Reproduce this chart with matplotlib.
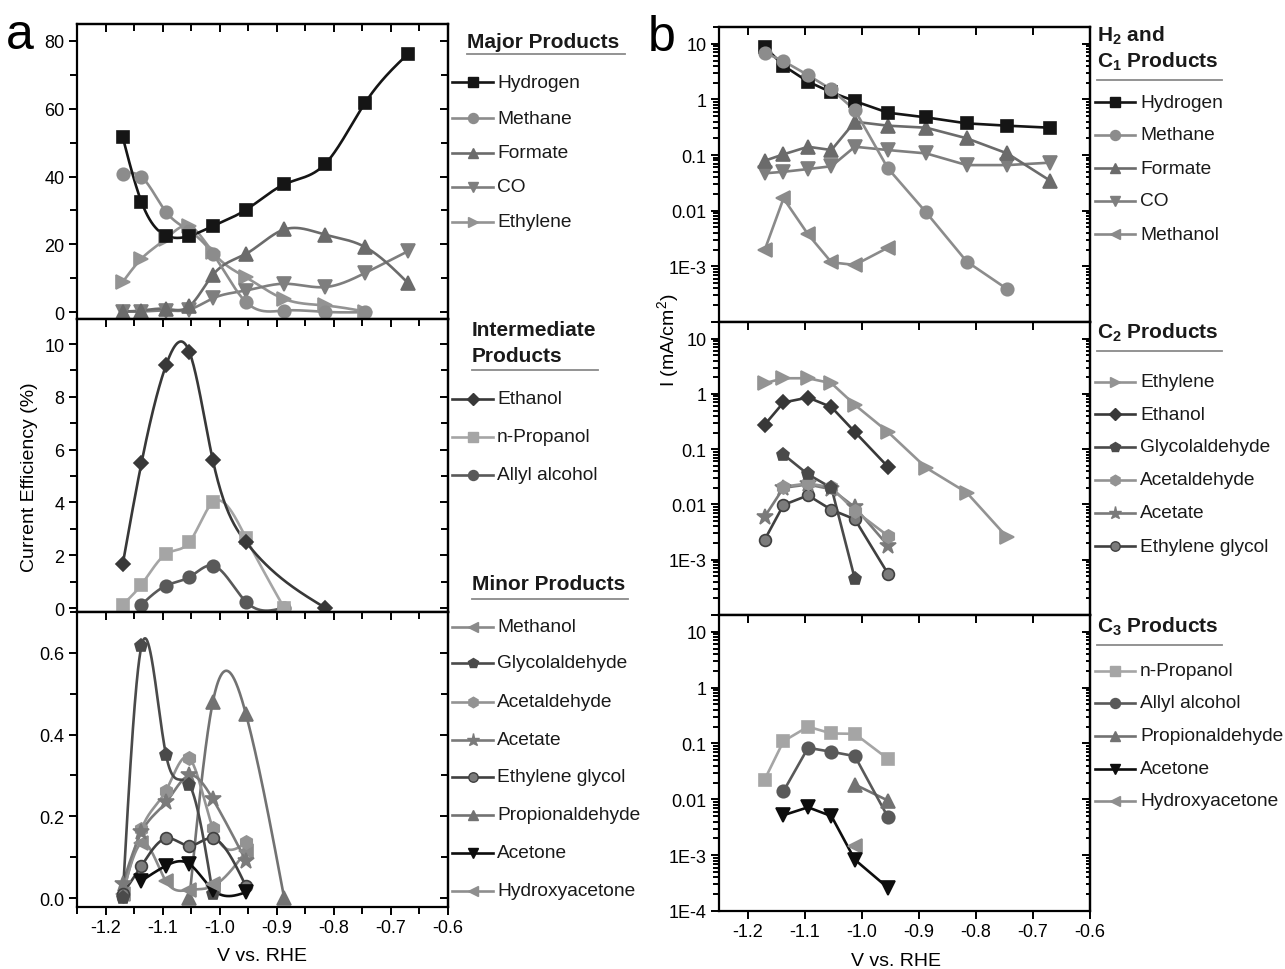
import numpy as np
import matplotlib
matplotlib.use('Agg')
import matplotlib.pyplot as plt
from matplotlib.lines import Line2D
from matplotlib.ticker import (MultipleLocator, FixedLocator, FixedFormatter,
                               FormatStrFormatter, LogLocator, NullFormatter)

plt.rcParams['font.family'] = ['Liberation Sans', 'DejaVu Sans']
plt.rcParams['mathtext.fontset'] = 'custom'
plt.rcParams['mathtext.rm'] = 'Liberation Sans'
plt.rcParams['mathtext.bf'] = 'Liberation Sans:bold'
plt.rcParams['mathtext.it'] = 'Liberation Sans:italic'
plt.rcParams['axes.unicode_minus'] = False

# applied potentials, V vs. RHE
V = [-1.17, -1.137, -1.094, -1.053, -1.012, -0.954, -0.887, -0.816, -0.745, -0.67]

# ---- (a) current efficiency, %
fe_hydrogen = [51.7, 32.5, 22.6, 22.5, 25.4, 30.2, 37.7, 43.6, 61.8, 76.2]
fe_methane = [40.9, 39.9, 29.6, 24.0, 17.2, 3.0, 0.5, 0.1, 0.0]
fe_formate = [0.2, 0.5, 1.0, 1.8, 11.0, 17.2, 24.4, 22.9, 19.2, 8.6]
fe_co = [0.2, 0.2, 0.5, 0.8, 4.1, 6.4, 8.4, 7.4, 11.6, 18.0]
fe_ethylene = [8.9, 15.8, 21.7, 25.4, 17.7, 10.3, 3.9, 2.0, 0.2]

v_fe_ethanol = [-1.17, -1.137, -1.094, -1.053, -1.012, -0.954, -0.816]
fe_ethanol = [1.65, 5.5, 9.2, 9.7, 5.6, 2.5, 0.02]
fe_npropanol = [0.13, 0.89, 2.05, 2.5, 4.0, 2.66, 0.0]
fe_allyl = [0.13, 0.85, 1.17, 1.61, 0.24, 0.02]

fe_methanol = [0.011, 0.134, 0.041, 0.02, 0.029, 0.114]
fe_glycolaldehyde = [0.0, 0.617, 0.35, 0.277, 0.01]
fe_acetaldehyde = [0.005, 0.169, 0.263, 0.342, 0.171, 0.136]
fe_acetate = [0.035, 0.161, 0.234, 0.30, 0.242, 0.091]
fe_ethylene_glycol = [0.01, 0.079, 0.146, 0.128, 0.146, 0.029]
fe_propionaldehyde = [0.0, 0.48, 0.45, 0.0]
fe_acetone = [0.042, 0.079, 0.083, 0.02, 0.014]
fe_hydroxyacetone = [0.035]

# ---- (b) partial current density, mA/cm2
j_hydrogen = [8.85, 4.03, 2.08, 1.34, 0.93, 0.577, 0.475, 0.371, 0.337, 0.31]
j_methane = [6.9, 4.87, 2.73, 1.51, 0.643, 0.0576, 0.0093, 0.00122, 0.00039]
j_formate = [0.079, 0.103, 0.141, 0.123, 0.397, 0.337, 0.31, 0.2, 0.107, 0.0347]
j_co = [0.047, 0.050, 0.056, 0.063, 0.141, 0.123, 0.107, 0.066, 0.066, 0.073]
j_methanol = [0.00196, 0.0166, 0.00376, 0.00118, 0.00106, 0.00217]

j_ethylene = [1.56, 1.92, 1.92, 1.56, 0.634, 0.205, 0.046, 0.0164, 0.00254]
j_ethanol = [0.277, 0.70, 0.861, 0.577, 0.205, 0.048]
j_glycolaldehyde = [0.080, 0.035, 0.020, 0.00045]
j_acetaldehyde = [0.021, 0.024, 0.0204, 0.0077, 0.0027]
j_acetate = [0.006, 0.020, 0.023, 0.0188, 0.0089, 0.0018]
j_ethylene_glycol = [0.0023, 0.0098, 0.0146, 0.008, 0.0054, 0.00056]

j_npropanol = [0.0226, 0.110, 0.20, 0.151, 0.149, 0.053]
j_allyl = [0.014, 0.0837, 0.071, 0.0594, 0.0048]
j_propionaldehyde = [0.0184, 0.0095]
j_acetone = [0.0052, 0.0072, 0.0050, 0.00083, 0.00026]
j_hydroxyacetone = [0.00144]

STYLE = {
    'Hydrogen': dict(color='#151515', marker='s', ms=8.5),
    'Methane': dict(color='#8c8c8c', marker='o', ms=9),
    'Formate': dict(color='#6b6b6b', marker='^', ms=9.5),
    'CO': dict(color='#7e7e7e', marker='v', ms=9.5),
    'Ethylene': dict(color='#939393', marker='>', ms=9.5),
    'Methanol': dict(color='#8a8a8a', marker='<', ms=9.5),
    'Ethanol': dict(color='#383838', marker='D', ms=7.5),
    'n-Propanol': dict(color='#a5a5a5', marker='s', ms=8.5),
    'Allyl alcohol': dict(color='#595959', marker='o', ms=9),
    'Glycolaldehyde': dict(color='#4a4a4a', marker='p', ms=9.5),
    'Acetaldehyde': dict(color='#939393', marker='h', ms=9.5),
    'Acetate': dict(color='#7a7a7a', marker='*', ms=12),
    'Ethylene glycol': dict(color='#404040', marker='o', ms=8.5, mfc='#7c7c7c'),
    'Propionaldehyde': dict(color='#727272', marker='^', ms=9.5),
    'Acetone': dict(color='#0d0d0d', marker='v', ms=9.5),
    'Hydroxyacetone': dict(color='#8e8e8e', marker='<', ms=9.5),
}

W, H = 1285, 970
LW = 1.9


def natural_spline(x, y, num=300):
    """Smooth connecting curve through the measured points."""
    x = np.asarray(x, float)
    y = np.asarray(y, float)
    n = len(x)
    if n < 3:
        return x, y
    h = np.diff(x)
    A = np.zeros((n, n))
    r = np.zeros(n)
    A[0, 0] = A[-1, -1] = 1.0
    for i in range(1, n - 1):
        A[i, i - 1] = h[i - 1]
        A[i, i] = 2 * (h[i - 1] + h[i])
        A[i, i + 1] = h[i]
        r[i] = 6 * ((y[i + 1] - y[i]) / h[i] - (y[i] - y[i - 1]) / h[i - 1])
    M = np.linalg.solve(A, r)
    xs = np.linspace(x[0], x[-1], num)
    k = np.clip(np.searchsorted(x, xs) - 1, 0, n - 2)
    t1 = x[k + 1] - xs
    t0 = xs - x[k]
    hk = h[k]
    ys = ((M[k] * t1 ** 3 + M[k + 1] * t0 ** 3) / (6 * hk)
          + (y[k] / hk - M[k] * hk / 6) * t1
          + (y[k + 1] / hk - M[k + 1] * hk / 6) * t0)
    return xs, ys


def plot_series(ax, name, x, y, smooth):
    st = STYLE[name]
    c = st['color']
    if smooth:
        xs, ys = natural_spline(x, y)
    else:
        xs, ys = x, y
    ax.plot(xs, ys, color=c, lw=LW, zorder=2)
    ax.plot(x, y, ls='none', marker=st['marker'], ms=st['ms'], color=c,
            mfc=st.get('mfc', c), mec=c, mew=1.2, zorder=3)


def add_axes(left, top, right, bottom):
    return fig.add_axes([left / W, 1 - bottom / H, (right - left) / W, (bottom - top) / H])


def style_axes(ax, log, xlabels, minor_x):
    ax.set_xlim(-1.25, -0.6)
    ax.xaxis.set_major_locator(MultipleLocator(0.1))
    ax.xaxis.set_major_formatter(FormatStrFormatter('%.1f'))
    if minor_x:
        ax.xaxis.set_minor_locator(MultipleLocator(0.05))
    for sp in ax.spines.values():
        sp.set_linewidth(1.6)
    ax.tick_params(which='both', direction='out', width=1.4, labelsize=13,
                   top=False, right=False, labelbottom=xlabels, pad=3)
    ax.tick_params(which='major', length=6)
    ax.tick_params(which='minor', length=4 if log else 5)

    # mirrored ticks on the top and right side point inward
    top = ax.secondary_xaxis('top')
    top.xaxis.set_major_locator(MultipleLocator(0.1))
    if minor_x:
        top.xaxis.set_minor_locator(MultipleLocator(0.05))
    top.tick_params(which='both', direction='in', width=1.4, labeltop=False)
    top.tick_params(which='major', length=6)
    top.tick_params(which='minor', length=5)
    top.spines['top'].set_linewidth(1.6)

    rgt = ax.secondary_yaxis('right')
    if log:
        rgt.yaxis.set_major_locator(FixedLocator([1e-4, 1e-3, 1e-2, 1e-1, 1, 10]))
        rgt.yaxis.set_minor_locator(LogLocator(base=10, subs=np.arange(2, 10), numticks=20))
        rgt.yaxis.set_minor_formatter(NullFormatter())
    else:
        rgt.yaxis.set_major_locator(ax.yaxis.get_major_locator())
        rgt.yaxis.set_minor_locator(ax.yaxis.get_minor_locator())
    rgt.tick_params(which='both', direction='in', width=1.4, labelright=False)
    rgt.tick_params(which='major', length=6)
    rgt.tick_params(which='minor', length=3 if log else 5)
    rgt.spines['right'].set_linewidth(1.6)


fig = plt.figure(figsize=(W / 100, H / 100), dpi=100)

# ---------------- panel a ----------------
a1 = add_axes(77, 25, 448, 320)
a2 = add_axes(77, 320, 448, 613)
a3 = add_axes(77, 613, 448, 908)

a1.set_ylim(-2, 85)
a1.yaxis.set_major_locator(MultipleLocator(20))
a1.yaxis.set_minor_locator(MultipleLocator(10))
a2.set_ylim(-0.15, 10.95)
a2.yaxis.set_major_locator(MultipleLocator(2))
a2.yaxis.set_minor_locator(MultipleLocator(1))
a3.set_ylim(-0.022, 0.70)
a3.yaxis.set_major_locator(MultipleLocator(0.2))
a3.yaxis.set_minor_locator(MultipleLocator(0.1))
a3.yaxis.set_major_formatter(FormatStrFormatter('%.1f'))

style_axes(a1, False, False, True)
style_axes(a2, False, False, True)
style_axes(a3, False, True, True)

plot_series(a1, 'Ethylene', V[:9], fe_ethylene, True)
plot_series(a1, 'CO', V, fe_co, True)
plot_series(a1, 'Formate', V, fe_formate, True)
plot_series(a1, 'Methane', V[:9], fe_methane, True)
plot_series(a1, 'Hydrogen', V, fe_hydrogen, True)

plot_series(a2, 'Allyl alcohol', V[1:7], fe_allyl, True)
plot_series(a2, 'n-Propanol', V[:7], fe_npropanol, True)
plot_series(a2, 'Ethanol', v_fe_ethanol, fe_ethanol, True)

plot_series(a3, 'Propionaldehyde', V[3:7], fe_propionaldehyde, True)
plot_series(a3, 'Methanol', V[:6], fe_methanol, True)
plot_series(a3, 'Acetaldehyde', V[:6], fe_acetaldehyde, True)
plot_series(a3, 'Acetate', V[:6], fe_acetate, True)
plot_series(a3, 'Ethylene glycol', V[:6], fe_ethylene_glycol, True)
plot_series(a3, 'Glycolaldehyde', V[:5], fe_glycolaldehyde, True)
plot_series(a3, 'Acetone', V[1:6], fe_acetone, True)
plot_series(a3, 'Hydroxyacetone', V[4:5], fe_hydroxyacetone, True)

# ---------------- panel b ----------------
b1 = add_axes(719, 28, 1090, 323)
b2 = add_axes(719, 323, 1090, 616)
b3 = add_axes(719, 616, 1090, 912)

for ax, show_low in ((b1, False), (b2, False), (b3, True)):
    ax.set_yscale('log')
    ax.set_ylim(1e-4, 20)
    ax.yaxis.set_major_locator(FixedLocator([1e-4, 1e-3, 1e-2, 1e-1, 1, 10]))
    ax.yaxis.set_major_formatter(FixedFormatter(
        ['1E-4' if show_low else '', '1E-3', '0.01', '0.1', '1', '10']))
    ax.yaxis.set_minor_locator(LogLocator(base=10, subs=np.arange(2, 10), numticks=20))
    ax.yaxis.set_minor_formatter(NullFormatter())
    style_axes(ax, True, show_low, False)

plot_series(b1, 'Methanol', V[:6], j_methanol, False)
plot_series(b1, 'CO', V, j_co, False)
plot_series(b1, 'Formate', V, j_formate, False)
plot_series(b1, 'Hydrogen', V, j_hydrogen, False)
plot_series(b1, 'Methane', V[:9], j_methane, False)

plot_series(b2, 'Ethylene glycol', V[:6], j_ethylene_glycol, False)
plot_series(b2, 'Acetate', V[:6], j_acetate, False)
plot_series(b2, 'Acetaldehyde', V[1:6], j_acetaldehyde, False)
plot_series(b2, 'Glycolaldehyde', V[1:5], j_glycolaldehyde, False)
plot_series(b2, 'Ethanol', V[:6], j_ethanol, False)
plot_series(b2, 'Ethylene', V[:9], j_ethylene, False)

plot_series(b3, 'Hydroxyacetone', V[4:5], j_hydroxyacetone, False)
plot_series(b3, 'Propionaldehyde', V[4:6], j_propionaldehyde, False)
plot_series(b3, 'Allyl alcohol', V[1:6], j_allyl, False)
plot_series(b3, 'Acetone', V[1:6], j_acetone, False)
plot_series(b3, 'n-Propanol', V[:6], j_npropanol, False)


# ---------------- legends ----------------
def fy(y):
    return 1 - y / H


def header(lines, x, ys, ul_y, ul_x1):
    for txt, y in zip(lines, ys):
        fig.text(x / W, fy(y), txt, fontsize=15, fontweight='bold',
                 ha='left', va='center', color='#1a1a1a')
    fig.add_artist(Line2D([x / W, ul_x1 / W], [fy(ul_y)] * 2, color='#8a8a8a',
                          lw=1.3, transform=fig.transFigure))


def entries(names, ys, x0, x1, xt):
    for name, y in zip(names, ys):
        st = STYLE[name]
        c = st['color']
        fig.add_artist(Line2D([x0 / W, (x0 + x1) / 2 / W, x1 / W], [fy(y)] * 3,
                              color=c, lw=LW, marker=st['marker'], markevery=[1],
                              ms=st['ms'] * 0.8, mfc=st.get('mfc', c), mec=c,
                              transform=fig.transFigure))
        fig.text(xt / W, fy(y), name, fontsize=13.8, ha='left', va='center',
                 color='#1a1a1a')


header(['Major Products'], 467, [42], 55, 625)
entries(['Hydrogen', 'Methane', 'Formate', 'CO', 'Ethylene'],
        [83, 119, 154, 188, 223], 452, 493, 497)

header(['Intermediate', 'Products'], 472, [330, 356], 371, 598)
entries(['Ethanol', 'n-Propanol', 'Allyl alcohol'], [400, 438, 476], 452, 493, 497)

header(['Minor Products'], 472, [585], 600, 628)
entries(['Methanol', 'Glycolaldehyde', 'Acetaldehyde', 'Acetate', 'Ethylene glycol',
         'Propionaldehyde', 'Acetone', 'Hydroxyacetone'],
        [628, 664, 703, 741, 778, 816, 854, 892], 452, 493, 497)

header([r'$\mathbf{H_2}$ and', r'$\mathbf{C_1}$ Products'], 1097, [36, 62], 81, 1222)
entries(['Hydrogen', 'Methane', 'Formate', 'CO', 'Methanol'],
        [103, 136, 169, 202, 235], 1095, 1135, 1140)

header([r'$\mathbf{C_2}$ Products'], 1097, [333], 352, 1222)
entries(['Ethylene', 'Ethanol', 'Glycolaldehyde', 'Acetaldehyde', 'Acetate',
         'Ethylene glycol'], [383, 415, 448, 481, 514, 547], 1095, 1135, 1140)

header([r'$\mathbf{C_3}$ Products'], 1097, [627], 646, 1222)
entries(['n-Propanol', 'Allyl alcohol', 'Propionaldehyde', 'Acetone', 'Hydroxyacetone'],
        [672, 704, 737, 770, 802], 1095, 1135, 1140)

# ---------------- labels ----------------
fig.text(30 / W, fy(477), 'Current Efficiency (%)', rotation=90, fontsize=14,
         ha='center', va='center')
fig.text(668 / W, fy(340), r'I (mA/cm$^2$)', rotation=90, fontsize=14,
         ha='center', va='center')
fig.text(262 / W, fy(957), 'V vs. RHE', fontsize=14, ha='center', va='center')
fig.text(896 / W, fy(962), 'V vs. RHE', fontsize=14, ha='center', va='center')
fig.text(20 / W, fy(36), 'a', fontsize=36, ha='center', va='center')
fig.text(662 / W, fy(38), 'b', fontsize=36, ha='center', va='center')

fig.savefig('out.png', dpi=100)
